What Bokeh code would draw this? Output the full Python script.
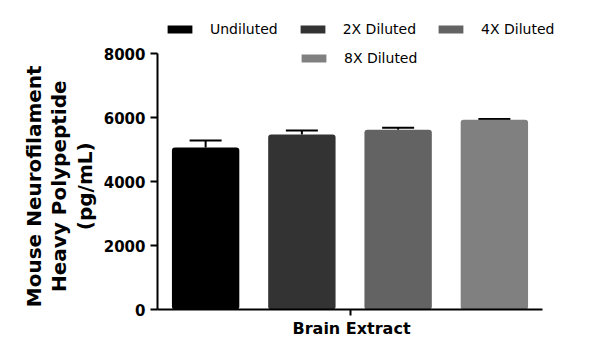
import math
from bokeh.plotting import figure
from bokeh.layouts import row
from bokeh.models import (ColumnDataSource, Range1d, FixedTicker, Whisker, TeeHead,
                          Legend, LegendItem, Title)
from bokeh.core.properties import value
from bokeh.embed import file_html
from bokeh.resources import INLINE

# ---- data ----
categories = ["Undiluted", "2X Diluted", "4X Diluted", "8X Diluted"]
values = [5060, 5470, 5620, 5930]
errors = [220, 120, 60, 25]
colors = ["#000000", "#333333", "#636363", "#808080"]
group_label = "Brain Extract"
y_ticks = [0, 2000, 4000, 6000, 8000]
y_title_lines = ["Mouse Neurofilament", "Heavy Polypeptide", "(pg/mL)"]

xs = list(range(1, len(categories) + 1))
src = ColumnDataSource(dict(
    x=xs, top=values, upper=[v + e for v, e in zip(values, errors)],
    color=colors, cat=categories))

FONT = "DejaVu Sans"

# layout (pixels)
W, H = 592, 356
title_w = 100             # width of the strip holding the y-axis title
left, right, bottom = 157, 560, 309
axis_px = 256             # pixel height of 0..8000
unit_px = 96.25           # pixels per category step
y_max = y_ticks[-1]
y_end = y_max * bottom / axis_px
x0 = 0.5
x_end = x0 + (right - left) / unit_px

# ---- y-axis title strip (one rotated text per line) ----
t = figure(width=title_w, height=H, output_backend="svg", toolbar_location=None,
           x_range=Range1d(0, title_w), y_range=Range1d(0, H),
           x_axis_type=None, y_axis_type=None,
           min_border=0, min_border_left=0, min_border_right=0,
           min_border_top=0, min_border_bottom=0)
t.outline_line_color = None
t.grid.grid_line_color = None
line_gap, first_line_x = 25.5, 33
title_cy = 188.5 + 25.5   # vertical centre of the title (page px) incl. render correction
t.text(x=[first_line_x + i * line_gap for i in range(len(y_title_lines))],
       y=[H - title_cy] * len(y_title_lines), text=y_title_lines,
       angle=math.pi / 2, text_align="center", text_baseline="middle",
       text_font=value(FONT), text_font_style="bold", text_font_size="20px",
       text_color="black")

# ---- main chart ----
p = figure(width=W - title_w, height=H, output_backend="svg", toolbar_location=None,
           x_range=Range1d(x0, x_end), y_range=Range1d(0, y_end),
           min_border_left=left - title_w, min_border_right=W - right,
           min_border_top=0, min_border_bottom=H - bottom)
p.outline_line_color = None
p.grid.grid_line_color = None
p.background_fill_color = "white"
p.border_fill_color = "white"

renderers = []
for i in range(len(categories)):
    r = p.vbar(x=[xs[i]], top=[values[i]], width=0.7, bottom=0,
               fill_color=colors[i], line_color=None, border_radius=3)
    renderers.append(r)

wh = Whisker(source=src, base="x", upper="upper", lower="top",
             dimension="height", line_color="black", line_width=2,
             upper_head=TeeHead(size=32, line_width=2, line_color="black"),
             lower_head=None)
p.add_layout(wh)

# axes
p.yaxis.ticker = FixedTicker(ticks=y_ticks)
p.yaxis.bounds = (0, y_max)
p.yaxis.axis_line_width = 2
p.yaxis.major_tick_line_width = 2
p.yaxis.major_tick_out = 7
p.yaxis.major_tick_in = 0
p.yaxis.minor_tick_line_color = None
p.yaxis.major_label_text_font = FONT
p.yaxis.major_label_text_font_style = "bold"
p.yaxis.major_label_text_font_size = "15px"
p.yaxis.major_label_text_color = "black"
p.yaxis.major_label_standoff = 5

center_tick = (len(categories) + 1) / 2
p.xaxis.ticker = FixedTicker(ticks=[center_tick])
p.xaxis.major_label_overrides = {center_tick: ""}
p.xaxis.bounds = (x0, len(categories) + 0.5)
p.xaxis.axis_line_width = 2
p.xaxis.major_tick_line_width = 2
p.xaxis.major_tick_out = 6
p.xaxis.major_tick_in = 0
p.xaxis.minor_tick_line_color = None

p.add_layout(Title(text=group_label, align="left", offset=135,
                   text_font=FONT, text_font_style="bold", text_font_size="16px",
                   text_color="black", standoff=2), "below")

def make_legend(items, loc):
    return Legend(items=items, location=loc, orientation="horizontal",
                  glyph_width=31, glyph_height=10, label_height=14,
                  label_standoff=15, spacing=19, padding=0, margin=0,
                  border_line_color=None, background_fill_alpha=0,
                  label_text_font=FONT, label_text_font_size="14px",
                  label_text_color="black")

items1 = [LegendItem(label=categories[i], renderers=[renderers[i]]) for i in range(3)]
items2 = [LegendItem(label=categories[3], renderers=[renderers[3]])]
p.add_layout(make_legend(items1, (7, 272)), "center")
p.add_layout(make_legend(items2, (141, 243)), "center")

open("out.html", "w").write(file_html(row(t, p, spacing=0), INLINE))
